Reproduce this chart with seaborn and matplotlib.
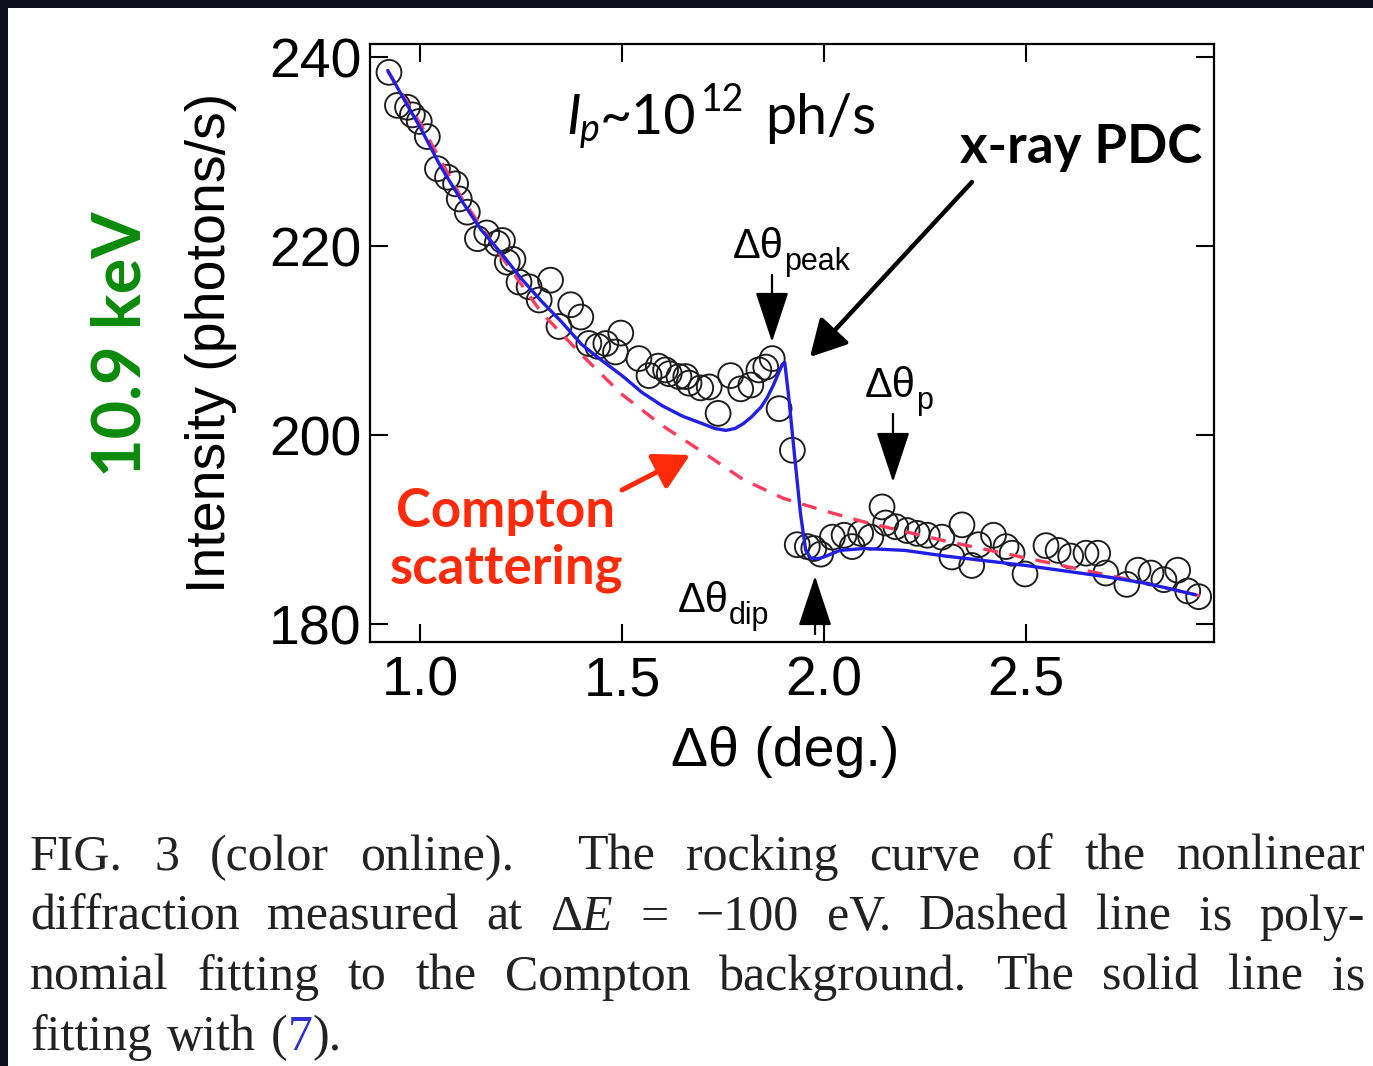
import numpy as np
import pandas as pd
import matplotlib
matplotlib.use("Agg")
import matplotlib.pyplot as plt
import seaborn as sns
from matplotlib.patches import Rectangle

# ---------------- data ----------------
theta = [0.923, 0.944, 0.969, 0.981, 0.998, 1.018, 1.043, 1.068, 1.088, 1.097,
         1.117, 1.142, 1.165, 1.191, 1.204, 1.216, 1.230, 1.245, 1.270, 1.295,
         1.323, 1.344, 1.373, 1.398, 1.418, 1.440, 1.460, 1.484, 1.497, 1.542,
         1.567, 1.590, 1.608, 1.617, 1.641, 1.658, 1.666, 1.695, 1.716, 1.738,
         1.769, 1.794, 1.819, 1.839, 1.856, 1.872, 1.889, 1.922, 1.934, 1.959,
         1.975, 1.992, 2.021, 2.050, 2.070, 2.091, 2.116, 2.144, 2.153, 2.178,
         2.206, 2.231, 2.256, 2.292, 2.317, 2.342, 2.366, 2.383, 2.420, 2.451,
         2.466, 2.498, 2.550, 2.580, 2.611, 2.649, 2.678, 2.698, 2.750, 2.778,
         2.810, 2.842, 2.876, 2.901, 2.928]
intensity = [238.4, 234.9, 234.7, 233.9, 233.2, 231.6, 228.2, 227.3, 226.6, 225.0,
             223.6, 220.8, 221.4, 220.3, 220.6, 218.3, 218.6, 216.2, 215.7, 214.3,
             216.4, 211.5, 213.8, 212.5, 209.7, 209.4, 209.7, 208.8, 210.8, 208.1,
             206.3, 207.3, 206.9, 206.5, 206.2, 206.2, 205.5, 205.0, 205.1, 202.3,
             206.3, 204.9, 205.3, 206.9, 207.2, 208.1, 202.8, 198.4, 188.4, 188.2,
             188.0, 187.4, 189.2, 189.4, 188.2, 189.6, 189.2, 192.4, 190.7, 190.3,
             189.9, 189.6, 189.4, 189.2, 187.1, 190.5, 186.2, 188.4, 189.4, 188.2,
             187.5, 185.3, 188.3, 187.8, 187.2, 187.5, 187.5, 185.4, 184.2, 185.7,
             185.4, 184.7, 185.7, 183.5, 182.9]

# solid line: fit with Eq. (7)
fit_theta = [0.92, 0.97, 1.00, 1.05, 1.10, 1.15, 1.20, 1.25, 1.30, 1.35, 1.40,
             1.45, 1.50, 1.55, 1.60, 1.65, 1.70, 1.73, 1.757, 1.78, 1.80, 1.82,
             1.845, 1.86, 1.875, 1.888, 1.897, 1.903, 1.913, 1.926, 1.942, 1.955,
             1.967, 1.985, 2.00, 2.04, 2.10, 2.20, 2.30, 2.40, 2.50, 2.60, 2.70,
             2.80, 2.92]
fit_int = [238.6, 234.8, 232.6, 228.5, 225.0, 221.8, 219.3, 216.6, 214.2, 212.0, 209.6,
           207.9, 206.3, 204.5, 203.1, 202.0, 201.2, 200.7, 200.5, 200.7, 201.2, 201.9,
           203.0, 204.0, 205.3, 206.6, 207.5, 207.7, 204.0, 198.4, 191.7, 187.8,
           187.0, 186.9, 187.1, 187.8, 188.0, 187.8, 187.2, 186.7, 186.2, 185.6, 185.0,
           184.3, 183.1]

# dashed line: polynomial Compton background
bg_theta = [0.92, 1.00, 1.10, 1.20, 1.30, 1.40, 1.50, 1.60, 1.70, 1.80, 1.90,
            2.00, 2.10, 2.20, 2.30, 2.40, 2.50, 2.60, 2.70, 2.80, 2.93]
bg_int = [238.5, 233.0, 225.3, 219.0, 213.0, 208.5, 204.3, 201.0, 198.2, 195.3, 193.3,
          192.0, 190.8, 189.8, 188.8, 187.9, 187.0, 186.1, 185.2, 184.3, 183.0]

x_ticks = [1.0, 1.5, 2.0, 2.5]
y_ticks = [180, 200, 220, 240]
x_label = "Δθ (deg.)"
y_label = "Intensity (photons/s)"

# ---------------- style ----------------
sns.set_theme(style="ticks")
plt.rcParams["font.family"] = ["Liberation Sans", "DejaVu Sans"]

W, H = 1373, 1066
fig = plt.figure(figsize=(W / 100, H / 100), dpi=100)
fig.patch.set_facecolor("#0e0e1c")
fig.patches.append(Rectangle((8 / W, 0), 1 - 8 / W, 1 - 8 / H, transform=fig.transFigure,
                             facecolor="white", edgecolor="none", zorder=-10))


def fx(x, y):
    return x / W, 1 - y / H


ax = fig.add_axes([370 / W, 1 - 642 / H, (1214 - 370) / W, (642 - 44) / H])
ax.set_facecolor("white")

df = pd.DataFrame({"theta": theta, "I": intensity})
fit = pd.DataFrame({"theta": fit_theta, "I": fit_int})
bg = pd.DataFrame({"theta": bg_theta, "I": bg_int})

sns.scatterplot(data=df, x="theta", y="I", ax=ax, marker="o", s=320, zorder=2, legend=False)
coll = ax.collections[-1]
coll.set_facecolor("none")
coll.set_edgecolor("#1c1c1c")
coll.set_linewidth(1.35)

sns.lineplot(data=bg, x="theta", y="I", ax=ax, color="#ff3b5c", lw=2.4, sort=False,
             estimator=None, zorder=3)
ax.lines[-1].set_dashes((4.5, 3.5))
sns.lineplot(data=fit, x="theta", y="I", ax=ax, color="#1f1fe6", lw=2.4, sort=False,
             estimator=None, zorder=4)

ax.set_xlim(0.876, 2.966)
ax.set_ylim(178.1, 241.4)
ax.set_xticks(x_ticks)
ax.set_xticklabels([f"{v:.1f}" for v in x_ticks])
ax.set_yticks(y_ticks)
ax.set_yticklabels([str(v) for v in y_ticks])
ax.tick_params(direction="in", length=13, width=1.5, top=True, right=True,
               labelsize=40, colors="black")
ax.tick_params(axis="x", pad=10)
ax.tick_params(axis="y", pad=6)
for sp in ax.spines.values():
    sp.set_linewidth(1.6)
    sp.set_color("black")
    sp.set_visible(True)
ax.set_xlabel(x_label, fontsize=40, color="black")
ax.set_ylabel(y_label, fontsize=40, color="black")
ax.xaxis.set_label_coords(0.492, -0.14)
ax.yaxis.set_label_coords(-0.158, 0.5)

# ---------------- slide annotations ----------------
lato = ["Lato", "DejaVu Sans"]
fig.text(*fx(122, 344), "10.9 keV", rotation=90, ha="center", va="center",
         fontsize=48, fontweight="bold", color="#0b8a0b", family=lato)

# I_p ~ 10^12 ph/s
fig.text(*fx(566, 134), "I", fontsize=40, style="italic", family=lato, color="black", va="baseline")
fig.text(*fx(580, 141), "p", fontsize=27, style="italic", family=lato, color="black", va="baseline")
fig.text(*fx(600, 134), "~10", fontsize=40, family=lato, color="black", va="baseline")
fig.text(*fx(701, 111), "12", fontsize=27, family=lato, color="black", va="baseline")
fig.text(*fx(765, 134), "ph/s", fontsize=40, family=lato, color="black", va="baseline")

fig.text(*fx(1081, 148), "x-ray PDC", ha="center", va="center", fontsize=38,
         fontweight="bold", family=lato, color="black")
fig.text(*fx(506, 512), "Compton", ha="center", va="center", fontsize=38,
         fontweight="bold", family=lato, color="#ff2a0a")
fig.text(*fx(506, 568), "scattering", ha="center", va="center", fontsize=38,
         fontweight="bold", family=lato, color="#ff2a0a")

# arrows
ax.annotate("", xy=(810, H - 357), xycoords="figure pixels",
            xytext=(972, H - 182), textcoords="figure pixels",
            arrowprops=dict(arrowstyle="-|>,head_length=0.55,head_width=0.3", lw=3.2,
                            color="black", mutation_scale=40, shrinkA=0, shrinkB=0),
            annotation_clip=False)
ax.annotate("", xy=(690, H - 455), xycoords="figure pixels",
            xytext=(622, H - 490), textcoords="figure pixels",
            arrowprops=dict(arrowstyle="-|>,head_length=0.6,head_width=0.33", lw=3.6,
                            color="#ff2a0a", mutation_scale=36, shrinkA=0, shrinkB=0),
            annotation_clip=False)
for (x0, y0, x1, y1) in [(772, 275, 772, 342), (893, 414, 893, 482), (815, 634, 815, 576)]:
    ax.annotate("", xy=(x1, H - y1), xycoords="figure pixels",
                xytext=(x0, H - y0), textcoords="figure pixels",
                arrowprops=dict(arrowstyle="-|>,head_length=1.0,head_width=0.33", lw=1.6,
                                color="black", mutation_scale=32, shrinkA=0, shrinkB=0),
                zorder=6, annotation_clip=False)

# Δθ labels
for (x, y, sub) in [(733, 258, "peak"), (865, 397, "p"), (678, 612, "dip")]:
    fig.text(*fx(x, y), "Δθ", fontsize=30, va="baseline", ha="left", color="black")
    fig.text(*fx(x + 51, y + 12), sub, fontsize=22, va="baseline", ha="left", color="black")

# ---------------- caption (justified) ----------------
serif = ["Liberation Serif", "DejaVu Serif"]
cap_fs = 36
lines = [
    ([[("FIG.", {})], [("3", {})], [("(color", {})], [("online).", {})], [("The", {})],
      [("rocking", {})], [("curve", {})], [("of", {})], [("the", {})], [("nonlinear", {})]],
     [1, 1, 1, 2, 1, 1, 1, 1, 1], True),
    ([[("diffraction", {})], [("measured", {})], [("at", {})],
      [("Δ", {}), ("E", {"style": "italic"})], [("=", {})], [("−100", {})], [("eV.", {})],
      [("Dashed", {})], [("line", {})], [("is", {})], [("poly-", {})]], None, True),
    ([[("nomial", {})], [("fitting", {})], [("to", {})], [("the", {})], [("Compton", {})],
      [("background.", {})], [("The", {})], [("solid", {})], [("line", {})], [("is", {})]],
     None, True),
    ([[("fitting", {})], [("with", {})],
      [("(", {}), ("7", {"color": "#3030d0"}), (").", {})]], None, False),
]
baselines = [870, 930, 990, 1050]
x_left, x_right = 30, 1365
renderer = fig.canvas.get_renderer()
for (words, weights, justify), yb in zip(lines, baselines):
    arts = []
    for w in words:
        segs = []
        for s, kw in w:
            kw2 = dict(color="#222222")
            kw2.update(kw)
            t = fig.text(0, 1 - yb / H, s, fontsize=cap_fs, family=serif, va="baseline",
                         ha="left", **kw2)
            segs.append(t)
        arts.append(segs)
    widths = [[t.get_window_extent(renderer).width for t in segs] for segs in arts]
    total = sum(sum(w) for w in widths)
    if weights is None:
        weights = [1] * (len(arts) - 1)
    if justify:
        gap = (x_right - x_left - total) / sum(weights)
    else:
        gap = 0.25 * cap_fs * 100 / 72 * 1.2
    x = x_left
    for i, segs in enumerate(arts):
        for t, wd in zip(segs, widths[i]):
            t.set_x(x / W)
            x += wd
        if i < len(weights):
            x += gap * weights[i]

fig.savefig("out.png", dpi=100)
